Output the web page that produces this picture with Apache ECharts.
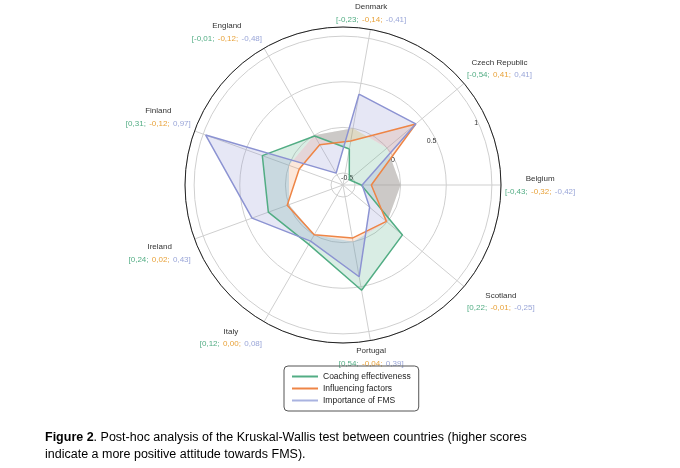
<!DOCTYPE html>
<html>
<head>
<meta charset="utf-8">
<script src="https://cdn.jsdelivr.net/npm/echarts@6/dist/echarts.min.js"></script>
<style>html,body{margin:0;padding:0;background:#fff}#main{width:680px;height:468px}</style>
</head>
<body>
<div id="main"></div>
<script>
var countries = ['Denmark','Czech Republic','Belgium','Scotland','Portugal','Italy','Ireland','Finland','England'];
// values as drawn in the figure
var coaching = [-0.23,-0.54,-0.43,0.22,0.54,0.12,0.24,0.31,-0.01];
var influencing = [-0.14,0.41,-0.32,-0.01,-0.04,0.00,0.02,-0.12,-0.12];
var importance = [0.38,0.41,-0.42,-0.25,0.39,0.08,0.43,0.97,-0.48];
// values printed in the bracket labels
var labCoaching = ['-0,23','-0,54','-0,43','0,22','0,54','0,12','0,24','0,31','-0,01'];
var labInfluencing = ['-0,14','0,41','-0,32','-0,01','-0,04','0,00','0,02','-0,12','-0,12'];
var labImportance = ['-0,41','0,41','-0,42','-0,25','0,39','0,08','0,43','0,97','-0,48'];
var radiusTicks = [-0.5,0,0.5,1];

var colors = ['#52ad84','#ee8546','#8c93d2'];
var step = 360 / countries.length;

function polarData(vals){
	var out = [];
	for(var i = 0;i<vals.length;i++){ out.push([vals[i], i*step]); }
	out.push([vals[0], 360]);
	return out;
}

var chart = echarts.init(document.getElementById('main'));
var center = [343,185];
var font = 'Liberation Sans';
chart.setOption({
	animation:false,
	textStyle:{fontFamily:font},
	title:{
		left:40, top:424,
		text:'{b|Figure 2}. Post-hoc analysis of the Kruskal-Wallis test between countries (higher scores indicate a more positive attitude towards FMS).',
		textStyle:{fontFamily:font, fontSize:12.5, fontWeight:'normal', color:'#000', width:630, overflow:'break', lineHeight:17,
			rich:{b:{fontFamily:font, fontSize:12.5, fontWeight:'bold', color:'#000'}}}
	},
	legend:{
		orient:'vertical', left:284, top:366, itemGap:3,
		itemWidth:26, itemHeight:2, icon:'rect',
		padding:[6,8,6,8], borderColor:'#555', borderWidth:1, borderRadius:4,
		textStyle:{fontFamily:font, fontSize:8.5, color:'#222'},
		data:['Coaching effectiveness','Influencing factors','Importance of FMS']
	},
	polar:[
		{center:center, radius:[0,158]},
		{center:center, radius:[12,158]},
		{center:center, radius:[12,158]}
	],
	angleAxis:[
		{polarIndex:0, type:'value', min:0, max:360, interval:step, startAngle:80, clockwise:true,
			axisLine:{lineStyle:{color:'#222', width:1}},
			axisTick:{show:false},
			splitLine:{lineStyle:{color:'#cfcfcf'}},
			axisLabel:{margin:4, formatter:function(v){
				var i = Math.round(v/step);
				if(i>=countries.length) return '';
				return '{n|'+countries[i]+'}\n{g|['+labCoaching[i]+';} {o|'+labInfluencing[i]+';} {p|'+labImportance[i]+']}';
			}, rich:{
				n:{fontFamily:font, fontSize:8, color:'#333', lineHeight:13, align:'center'},
				g:{fontFamily:font, fontSize:8, color:colors[0]},
				o:{fontFamily:font, fontSize:8, color:'#e8a23a'},
				p:{fontFamily:font, fontSize:8, color:'#9aa6d8'}
			}}
		},
		{polarIndex:1, type:'value', min:0, max:360, startAngle:80, show:false},
		{polarIndex:2, type:'value', min:0, max:360, startAngle:24, show:false}
	],
	radiusAxis:[
		{polarIndex:0, min:-0.63, max:1.1, show:false},
		{polarIndex:1, min:-0.5, max:1.1, interval:0.5,
			axisLine:{show:false}, axisTick:{show:false}, axisLabel:{show:false},
			splitLine:{lineStyle:{color:'#cfcfcf'}}},
		{polarIndex:2, min:-0.5, max:1.1, interval:0.5,
			axisLine:{show:false}, axisTick:{show:false}, splitLine:{show:false},
			axisLabel:{fontFamily:font, fontSize:7, color:'#333', margin:2, formatter:function(v){
				return radiusTicks.indexOf(v)>=0 ? String(v) : '';
			}}}
	],
	series:[
		{name:'Coaching effectiveness', type:'line', coordinateSystem:'polar', polarIndex:0, symbol:'none',
			data:polarData(coaching), lineStyle:{color:colors[0], width:1.5}, itemStyle:{color:colors[0]},
			areaStyle:{color:colors[0], opacity:0.22}},
		{name:'Influencing factors', type:'line', coordinateSystem:'polar', polarIndex:0, symbol:'none',
			data:polarData(influencing), lineStyle:{color:colors[1], width:1.5}, itemStyle:{color:colors[1]},
			areaStyle:{color:colors[1], opacity:0.2}},
		{name:'Importance of FMS', type:'line', coordinateSystem:'polar', polarIndex:0, symbol:'none',
			data:polarData(importance), lineStyle:{color:colors[2], width:1.5}, itemStyle:{color:'#a9b3e0'},
			areaStyle:{color:colors[2], opacity:0.22}}
	]
});
</script>
</body>
</html>
